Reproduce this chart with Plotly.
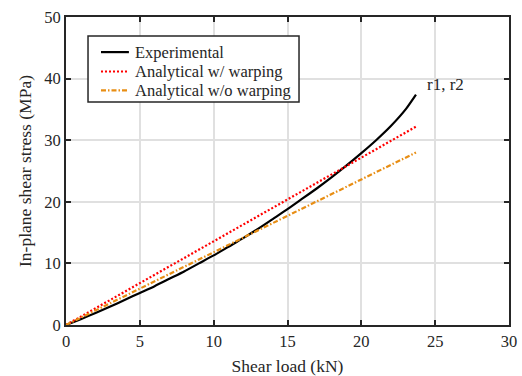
import plotly.graph_objects as go

# Shear load (kN) and measured in-plane shear stress (MPa)
exp_load = [0, 1, 2, 3, 4, 5, 6, 7, 8, 9, 10, 11, 12, 13, 14, 15, 16, 17, 18, 19, 20, 21, 22, 23, 23.7]
exp_stress = [0, 0.95, 1.95, 3.0, 4.1, 5.2, 6.3, 7.5, 8.7, 10.0, 11.3, 12.7, 14.1, 15.6, 17.2, 18.8, 20.5, 22.2, 24.0, 25.9, 27.9, 30.0, 32.3, 35.0, 37.4]

# Analytical predictions (linear)
ana_load = [0, 23.7]
ana_warp = [0, 32.2]
ana_nowarp = [0, 28.0]

x_ticks = [0, 5, 10, 15, 20, 25, 30]
y_ticks = [0, 10, 20, 30, 40, 50]

series_names = ["Experimental", "Analytical w/ warping", "Analytical w/o warping"]

FONT = "Liberation Serif"
INK = "#262626"
styles = [
    dict(color="black", width=2.2, dash="solid"),
    dict(color="#ff0000", width=2.2, dash="2px,2px"),
    dict(color="#e88e14", width=2.2, dash="5px,2px,1.5px,2px"),
]

fig = go.Figure()
fig.add_trace(go.Scatter(x=exp_load, y=exp_stress, mode="lines", name=series_names[0],
                         line=dict(**styles[0], shape="spline", smoothing=0.6)))
fig.add_trace(go.Scatter(x=ana_load, y=ana_warp, mode="lines", name=series_names[1],
                         line=styles[1]))
fig.add_trace(go.Scatter(x=ana_load, y=ana_nowarp, mode="lines", name=series_names[2],
                         line=styles[2]))

fig.add_annotation(x=24.3, y=39.0, text="r1, r2", showarrow=False, xanchor="left",
                   font=dict(family=FONT, size=17, color=INK))

# Boxed legend in the upper-left corner of the axes
fig.add_shape(type="rect", xref="paper", yref="paper", x0=0.0497, x1=0.526, y0=0.724, y1=0.938,
              line=dict(color=INK, width=1.5), fillcolor="white", layer="above")
row_y = [0.886, 0.823, 0.762]
for name, st, yy in zip(series_names, styles, row_y):
    fig.add_shape(type="line", xref="paper", yref="paper", x0=0.079, x1=0.142, y0=yy, y1=yy,
                  line=dict(color=st["color"], width=st["width"], dash=st["dash"]), layer="above")
    fig.add_annotation(xref="paper", yref="paper", x=0.151, y=yy, text=name, showarrow=False,
                       xanchor="left", yanchor="middle",
                       font=dict(family=FONT, size=16.5, color=INK))

axis_common = dict(showline=True, linecolor=INK, linewidth=2, mirror="ticks",
                   ticks="inside", ticklen=5, tickwidth=1.5, tickcolor=INK,
                   showgrid=True, gridcolor="#e0e0e0", gridwidth=1.5, zeroline=False,
                   automargin=False,
                   tickfont=dict(family=FONT, size=16.5, color=INK))

fig.update_layout(
    width=522, height=376,
    margin=dict(l=66, r=13, t=17, b=51),
    paper_bgcolor="white", plot_bgcolor="white",
    font=dict(family=FONT, color=INK),
    showlegend=False,
    xaxis=dict(range=[0, 30], tickvals=x_ticks,
               title=dict(text="Shear load (kN)", font=dict(family=FONT, size=17.5, color=INK), standoff=10),
               **axis_common),
    yaxis=dict(range=[0, 50], tickvals=y_ticks,
               title=dict(text="In-plane shear stress (MPa)", font=dict(family=FONT, size=17.5, color=INK), standoff=8),
               **axis_common),
)

fig.write_html("out.html")
